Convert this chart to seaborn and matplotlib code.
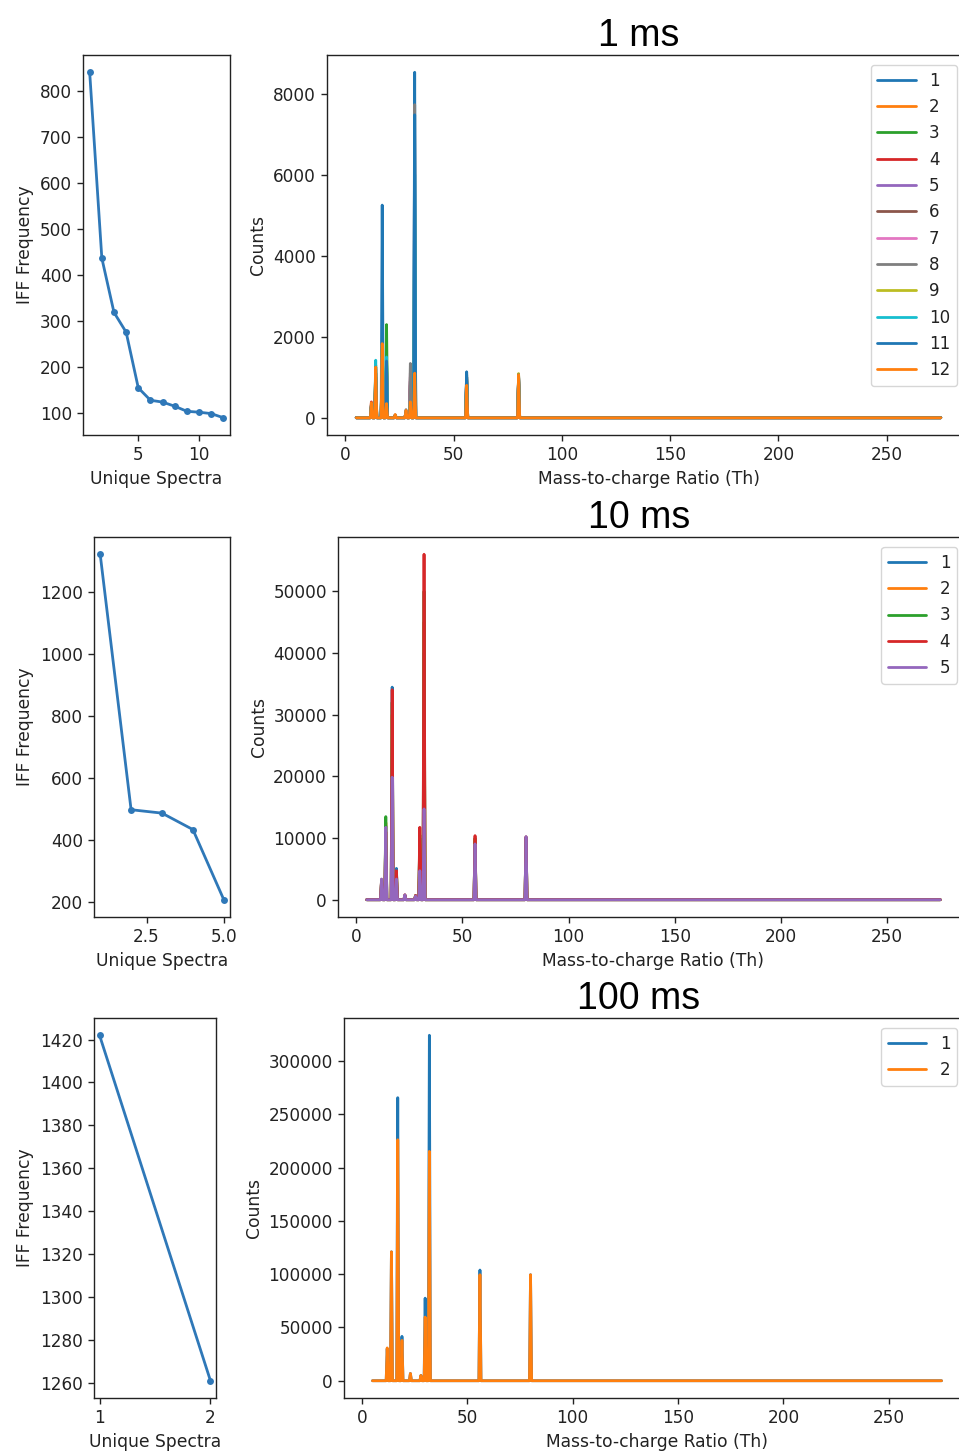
import numpy as np
import matplotlib
matplotlib.use("Agg")
import matplotlib.pyplot as plt
import seaborn as sns

# ---------------- data ----------------
titles = ["1 ms", "10 ms", "100 ms"]

# left panels: IFF frequency vs unique spectra
unique_1ms = list(range(1, 13))
iff_1ms = [840, 436, 318, 275, 154, 127, 123, 114, 103, 101, 98, 89]
unique_10ms = [1, 2, 3, 4, 5]
iff_10ms = [1321, 498, 487, 434, 208]
unique_100ms = [1, 2]
iff_100ms = [1422, 1261]

# spectra: m/z range, sampling step and peak positions (Th)
mz_start, mz_end, mz_step = 5, 275, 0.5
peak_mz = [12, 14, 17, 19, 23, 28, 30, 32, 56, 80]

# peak heights (counts) per spectrum, in the order of peak_mz
counts_1ms = [
    [300, 900, 5250, 1500, 60, 150, 900, 8530, 1130, 1000],
    [280, 800, 1500, 800, 50, 120, 700, 1500, 700, 900],
    [250, 1000, 1600, 2300, 60, 140, 800, 2000, 900, 950],
    [390, 1100, 1400, 1200, 60, 150, 900, 2200, 1000, 1000],
    [300, 900, 1300, 1000, 50, 130, 800, 2500, 900, 950],
    [280, 1000, 1200, 1100, 60, 160, 1000, 3000, 1000, 1000],
    [260, 1100, 1500, 1300, 50, 150, 1100, 4000, 1000, 1020],
    [300, 1200, 1600, 1200, 70, 200, 1340, 7730, 1000, 1050],
    [300, 1300, 1700, 1400, 60, 150, 380, 5000, 1050, 1090],
    [330, 1420, 1800, 1500, 60, 150, 370, 6000, 1000, 1050],
    [320, 1250, 1700, 1400, 60, 150, 360, 7480, 1130, 1060],
    [370, 1250, 1830, 350, 80, 180, 390, 1100, 800, 1060],
]
counts_10ms = [
    [3000, 12000, 34460, 5080, 700, 600, 10000, 40000, 9500, 10000],
    [3100, 12500, 30000, 4500, 700, 600, 9000, 45000, 9800, 10100],
    [3200, 13470, 32000, 4600, 750, 700, 10500, 50000, 10000, 10150],
    [3300, 11000, 34040, 4700, 800, 700, 11740, 56000, 10390, 10200],
    [3360, 11740, 19860, 3360, 800, 600, 4700, 14720, 9040, 10230],
]
counts_100ms = [
    [30000, 121000, 265700, 41650, 6800, 5000, 77500, 324300, 103900, 99500],
    [30800, 121000, 226200, 37900, 6800, 5000, 59750, 215300, 99500, 99500],
]

left_x_ticks = [[5, 10], [2.5, 5.0], [1, 2]]
left_y_ticks = [list(range(100, 801, 100)), list(range(200, 1201, 200)),
                list(range(1260, 1421, 20))]
right_y_ticks = [list(range(0, 8001, 2000)), list(range(0, 50001, 10000)),
                 list(range(0, 300001, 50000))]
right_x_ticks = [0, 50, 100, 150, 200, 250]

# ---------------- style ----------------
sns.set_theme(style="ticks")
plt.rcParams.update({
    "font.family": ["DejaVu Sans"],
    "axes.labelsize": 12.3,
    "xtick.labelsize": 12.2,
    "ytick.labelsize": 12.2,
    "legend.fontsize": 12,
    "axes.edgecolor": "#222222",
    "axes.linewidth": 1.0,
    "xtick.color": "#222222",
    "ytick.color": "#222222",
    "axes.labelcolor": "#222222",
    "text.color": "#222222",
    "xtick.major.size": 4.5,
    "ytick.major.size": 4.5,
    "xtick.major.width": 1.0,
    "ytick.major.width": 1.0,
})

W, H = 959, 1454
fig = plt.figure(figsize=(W / 100, H / 100), dpi=100)


def fx(px):
    return px / W


def fy(px):
    return 1 - px / H


# pixel boxes: (left, top, right, bottom)
left_boxes = [(83, 55, 230, 435), (94, 537, 230, 917), (94, 1018, 216, 1398)]
right_boxes = [(327, 55, 970, 435), (338, 537, 969, 917), (344, 1018, 970, 1398)]
legend_tops = [65, 547, 1028]
title_base = [46, 528, 1009]

left_data = [(unique_1ms, iff_1ms), (unique_10ms, iff_10ms), (unique_100ms, iff_100ms)]
right_data = [counts_1ms, counts_10ms, counts_100ms]

mz_grid = np.arange(mz_start, mz_end + mz_step / 2, mz_step)
palette = sns.color_palette("tab10", 10)


def to_spectrum(heights):
    y = np.zeros(len(mz_grid))
    for mz, h in zip(peak_mz, heights):
        y[np.isclose(mz_grid, mz)] = h
    return y


for r in range(3):
    l, t, rr, b = left_boxes[r]
    axl = fig.add_axes([fx(l), fy(b), fx(rr - l), (b - t) / H])
    xs, ys = left_data[r]
    sns.lineplot(x=xs, y=ys, ax=axl, color="#2f78b8", lw=2, marker="o",
                 markersize=5, markeredgewidth=0)
    axl.set_xticks(left_x_ticks[r])
    axl.set_yticks(left_y_ticks[r])
    axl.set_xlabel("Unique Spectra")
    axl.set_ylabel("IFF Frequency")

    l, t, rr, b = right_boxes[r]
    axr = fig.add_axes([fx(l), fy(b), fx(rr - l), (b - t) / H])
    for i, heights in enumerate(right_data[r]):
        sns.lineplot(x=mz_grid, y=to_spectrum(heights), ax=axr,
                     color=palette[i % 10], lw=2, label=str(i + 1),
                     estimator=None, sort=False)
    axr.set_xticks(right_x_ticks)
    axr.set_yticks(right_y_ticks[r])
    axr.ticklabel_format(axis="y", style="plain", useOffset=False)
    axr.set_xlabel("Mass-to-charge Ratio (Th)")
    axr.set_ylabel("Counts")
    axr.legend(loc="upper right", bbox_to_anchor=(fx(957), fy(legend_tops[r])),
               bbox_transform=fig.transFigure, borderaxespad=0,
               labelspacing=0.5, handlelength=2.3, fontsize=12)

    fig.text(fx(639), fy(title_base[r]), titles[r], ha="center", va="baseline",
             fontsize=27, family=["Liberation Sans", "DejaVu Sans"], color="black")

fig.savefig("out.png", dpi=100)
